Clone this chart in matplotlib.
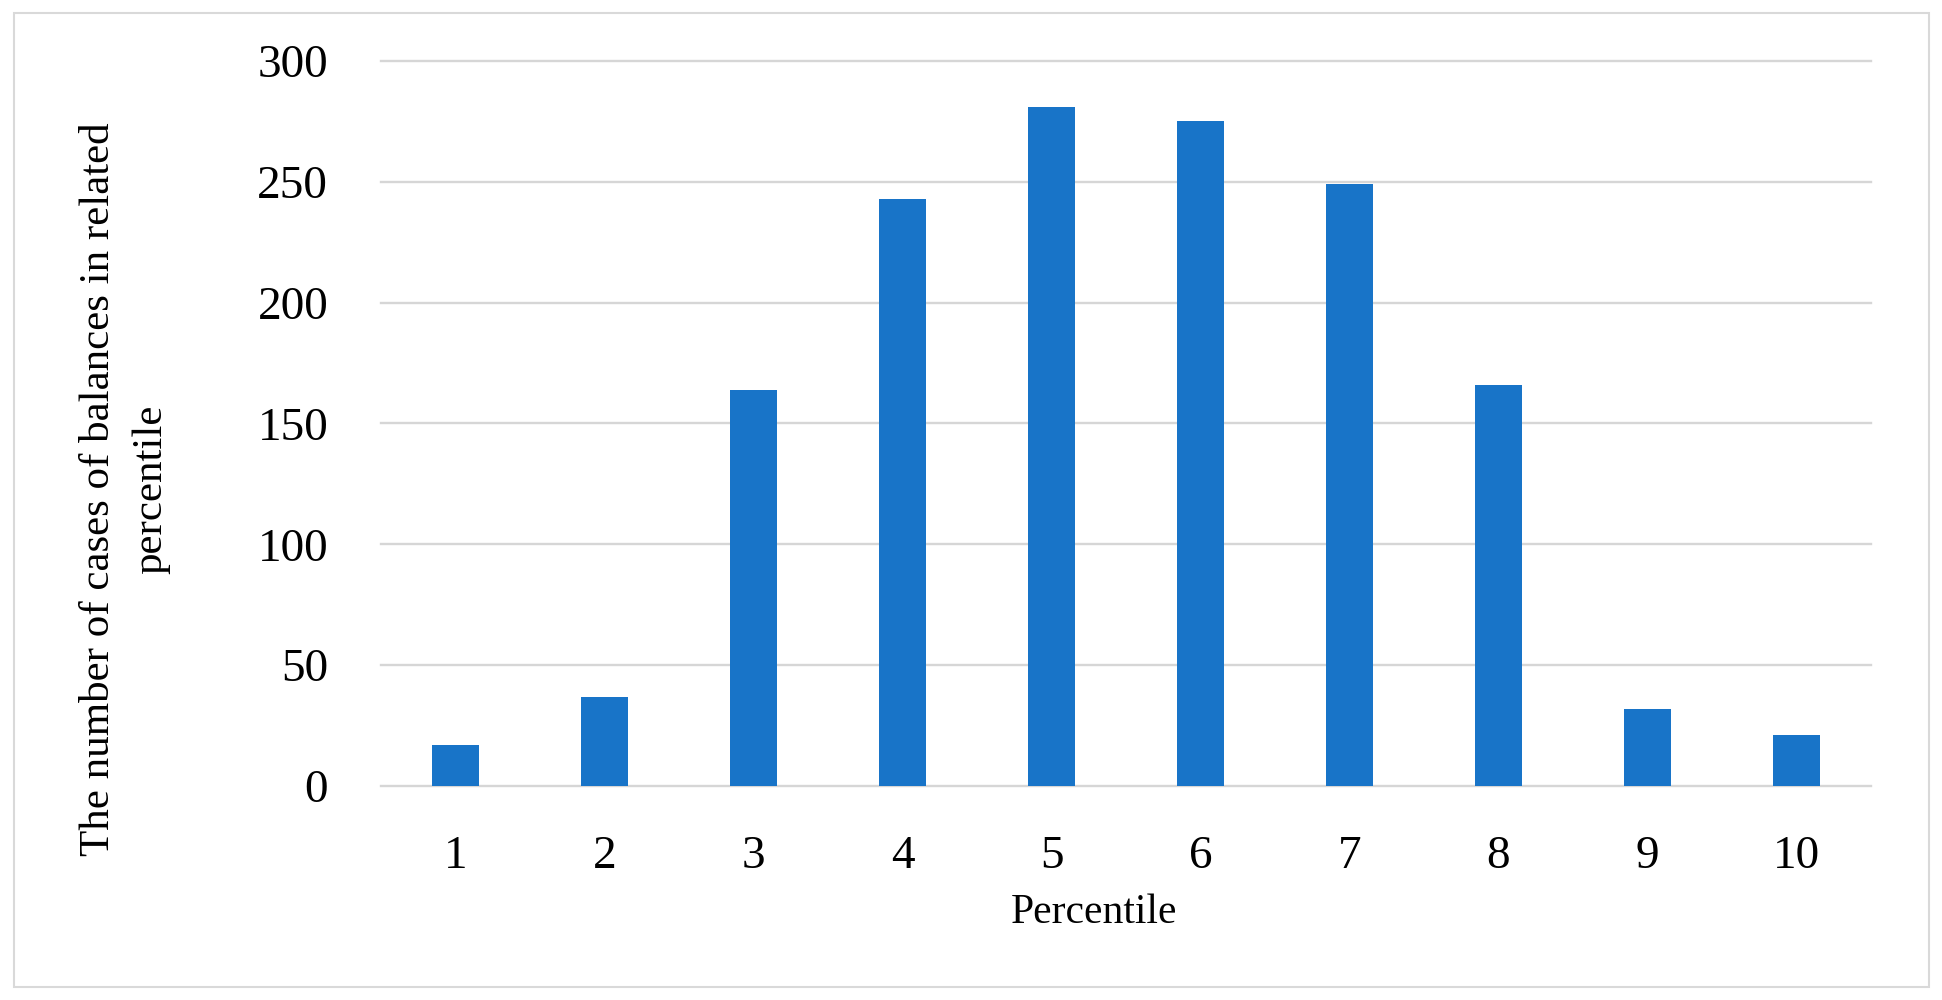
import matplotlib
matplotlib.use('Agg')
import matplotlib.pyplot as plt
import matplotlib.patches as patches

# dados do grafico
percentiles = [1, 2, 3, 4, 5, 6, 7, 8, 9, 10]
cases = [17, 37, 164, 243, 281, 275, 249, 166, 32, 21]
y_ticks = [0, 50, 100, 150, 200, 250, 300]

plt.rcParams['font.family'] = ['Liberation Serif', 'DejaVu Serif']

fig = plt.figure(figsize=(19.42, 10), dpi=100)
ax = fig.add_axes([381 / 1942, 0.214, 1490 / 1942, 0.725])

ax.bar(percentiles, cases, width=0.31, color='#1874C8', zorder=3)

ax.set_xlim(0.5, 10.5)
ax.set_ylim(0, 300)
ax.set_xticks(percentiles)
ax.set_xticklabels([str(p) for p in percentiles])
ax.set_yticks(y_ticks)

ax.grid(axis='y', color='#D6D6D6', linewidth=1.7, zorder=0)
for gl in ax.yaxis.get_gridlines():
    gl.set_clip_on(False)
for s in ax.spines.values():
    s.set_visible(False)

ax.tick_params(axis='both', length=0, labelsize=34, colors='black')
ax.tick_params(axis='y', pad=38)
ax.tick_params(axis='x', pad=36)

# rotulos dos eixos
fig.text(1094 / 1942, 1 - 913 / 1000, 'Percentile', ha='center', va='center', fontsize=30)
fig.text(125 / 1942, 1 - 489 / 1000, 'The number of cases of balances in related\npercentile',
         rotation=90, ha='center', va='center', multialignment='center',
         fontsize=31, linespacing=1.45)

# contorno da figura
frame = patches.Rectangle((14 / 1942, 13 / 1000), 1915 / 1942, 974 / 1000,
                          transform=fig.transFigure, fill=False,
                          edgecolor='#D9D9D9', linewidth=1.5)
fig.patches.append(frame)

fig.savefig('out.png', dpi=100)
